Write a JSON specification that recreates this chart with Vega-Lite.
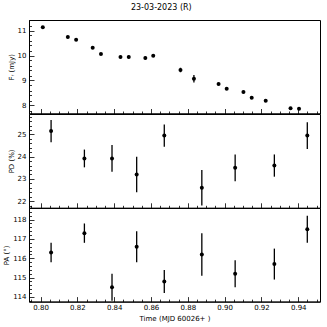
{
  "$schema": "https://vega.github.io/schema/vega-lite/v6.json",
  "padding": {"left": 2, "top": 3, "right": 5, "bottom": 2},
  "title": {"text": "23-03-2023  (R)", "fontSize": 8, "fontWeight": "normal", "font": "DejaVu Sans", "anchor": "middle", "offset": 4, "color": "black"},
  "config": {
    "view": {"stroke": "black", "strokeWidth": 1},
    "axis": {"domainColor": "black", "tickColor": "black", "labelColor": "black", "titleColor": "black", "labelFont": "DejaVu Sans", "titleFont": "DejaVu Sans", "labelFontSize": 7, "titleFontSize": 7, "titleFontWeight": "normal", "grid": false, "tickWidth": 0.8}
  },
  "datasets": {
    "flux": [
      {"t": 0.8012, "v": 11.13, "e": 0.05},
      {"t": 0.8148, "v": 10.74, "e": 0.05},
      {"t": 0.8193, "v": 10.63, "e": 0.04},
      {"t": 0.8283, "v": 10.31, "e": 0.04},
      {"t": 0.8328, "v": 10.06, "e": 0.04},
      {"t": 0.8434, "v": 9.94, "e": 0.05},
      {"t": 0.8479, "v": 9.94, "e": 0.06},
      {"t": 0.8569, "v": 9.90, "e": 0.06},
      {"t": 0.8612, "v": 9.99, "e": 0.05},
      {"t": 0.8760, "v": 9.42, "e": 0.09},
      {"t": 0.8833, "v": 9.07, "e": 0.15},
      {"t": 0.8967, "v": 8.86, "e": 0.05},
      {"t": 0.9011, "v": 8.67, "e": 0.05},
      {"t": 0.9102, "v": 8.54, "e": 0.05},
      {"t": 0.9147, "v": 8.31, "e": 0.05},
      {"t": 0.9223, "v": 8.19, "e": 0.04},
      {"t": 0.9358, "v": 7.89, "e": 0.04},
      {"t": 0.9404, "v": 7.87, "e": 0.05}
    ],
    "pd": [
      {"t": 0.8057, "v": 25.15, "e": 0.5},
      {"t": 0.8238, "v": 23.92, "e": 0.4},
      {"t": 0.8388, "v": 23.92, "e": 0.6},
      {"t": 0.8522, "v": 23.2, "e": 0.8},
      {"t": 0.8672, "v": 24.95, "e": 0.5},
      {"t": 0.8876, "v": 22.6, "e": 0.8},
      {"t": 0.9057, "v": 23.5, "e": 0.6},
      {"t": 0.9270, "v": 23.6, "e": 0.5},
      {"t": 0.9449, "v": 24.95, "e": 0.6}
    ],
    "pa": [
      {"t": 0.8057, "v": 116.3, "e": 0.5},
      {"t": 0.8238, "v": 117.3, "e": 0.5},
      {"t": 0.8388, "v": 114.5, "e": 0.7},
      {"t": 0.8522, "v": 116.6, "e": 0.8},
      {"t": 0.8672, "v": 114.8, "e": 0.6},
      {"t": 0.8876, "v": 116.2, "e": 1.1},
      {"t": 0.9057, "v": 115.2, "e": 0.7},
      {"t": 0.9270, "v": 115.7, "e": 0.8},
      {"t": 0.9449, "v": 117.5, "e": 0.7}
    ]
  },
  "spacing": 0,
  "bounds": "flush",
  "vconcat": [
    {
      "width": 291, "height": 93.5,
      "data": {"name": "flux"},
      "encoding": {
        "x": {"field": "t", "type": "quantitative", "scale": {"domain": [0.7937, 0.9518], "nice": false, "zero": false},
              "axis": {"title": null, "labels": false, "minExtent": 0, "maxExtent": 0, "values": [0.795,0.8,0.805,0.81,0.815,0.82,0.825,0.83,0.835,0.84,0.845,0.85,0.855,0.86,0.865,0.87,0.875,0.88,0.885,0.89,0.895,0.9,0.905,0.91,0.915,0.92,0.925,0.93,0.935,0.94,0.945,0.95],
                       "tickSize": {"condition": {"test": "abs(datum.value*50 - round(datum.value*50)) < 0.001", "value": -5}, "value": -2.5}}},
        "y": {"field": "v", "type": "quantitative", "scale": {"domain": [7.68, 11.42], "nice": false, "zero": false},
              "axis": {"title": "Fᵣ (mJy)", "titlePadding": 3, "labelOverlap": false,
                       "values": [7.8,8,8.2,8.4,8.6,8.8,9,9.2,9.4,9.6,9.8,10,10.2,10.4,10.6,10.8,11,11.2,11.4],
                       "labelExpr": "abs(datum.value - round(datum.value)) < 0.001 ? format(datum.value, 'd') : ''",
                       "tickSize": {"condition": {"test": "abs(datum.value - round(datum.value)) < 0.001", "value": -5}, "value": -2.5}, "labelPadding": 8}}
      },
      "layer": [
        {"mark": {"type": "errorbar", "color": "black", "thickness": 1.3}, "encoding": {"yError": {"field": "e"}}},
        {"mark": {"type": "circle", "color": "black", "opacity": 1, "size": 16}}
      ]
    },
    {
      "width": 291, "height": 93.8,
      "data": {"name": "pd"},
      "encoding": {
        "x": {"field": "t", "type": "quantitative", "scale": {"domain": [0.7937, 0.9518], "nice": false, "zero": false},
              "axis": {"title": null, "labels": false, "minExtent": 0, "maxExtent": 0, "values": [0.795,0.8,0.805,0.81,0.815,0.82,0.825,0.83,0.835,0.84,0.845,0.85,0.855,0.86,0.865,0.87,0.875,0.88,0.885,0.89,0.895,0.9,0.905,0.91,0.915,0.92,0.925,0.93,0.935,0.94,0.945,0.95],
                       "tickSize": {"condition": {"test": "abs(datum.value*50 - round(datum.value*50)) < 0.001", "value": -5}, "value": -2.5}}},
        "y": {"field": "v", "type": "quantitative", "scale": {"domain": [21.7, 25.92], "nice": false, "zero": false},
              "axis": {"title": "PD (%)", "titlePadding": 3, "labelOverlap": false,
                       "values": [21.8,22,22.2,22.4,22.6,22.8,23,23.2,23.4,23.6,23.8,24,24.2,24.4,24.6,24.8,25,25.2,25.4,25.6,25.8],
                       "labelExpr": "abs(datum.value - round(datum.value)) < 0.001 ? format(datum.value, 'd') : ''",
                       "tickSize": {"condition": {"test": "abs(datum.value - round(datum.value)) < 0.001", "value": -5}, "value": -2.5}, "labelPadding": 8}}
      },
      "layer": [
        {"mark": {"type": "errorbar", "color": "black", "thickness": 1.3}, "encoding": {"yError": {"field": "e"}}},
        {"mark": {"type": "circle", "color": "black", "opacity": 1, "size": 16}}
      ]
    },
    {
      "width": 291, "height": 93.6,
      "data": {"name": "pa"},
      "encoding": {
        "x": {"field": "t", "type": "quantitative", "scale": {"domain": [0.7937, 0.9518], "nice": false, "zero": false},
              "axis": {"title": "Time (MJD 60026+ )", "titlePadding": 1, "labelOverlap": false,
                       "values": [0.795,0.8,0.805,0.81,0.815,0.82,0.825,0.83,0.835,0.84,0.845,0.85,0.855,0.86,0.865,0.87,0.875,0.88,0.885,0.89,0.895,0.9,0.905,0.91,0.915,0.92,0.925,0.93,0.935,0.94,0.945,0.95],
                       "labelExpr": "abs(datum.value*50 - round(datum.value*50)) < 0.001 ? format(datum.value, '.2f') : ''",
                       "tickSize": {"condition": {"test": "abs(datum.value*50 - round(datum.value*50)) < 0.001", "value": -5}, "value": -2.5}, "labelPadding": 7}},
        "y": {"field": "v", "type": "quantitative", "scale": {"domain": [113.76, 118.6], "nice": false, "zero": false},
              "axis": {"title": "PA (°)", "titlePadding": 3, "labelOverlap": false,
                       "values": [113.8,114,114.2,114.4,114.6,114.8,115,115.2,115.4,115.6,115.8,116,116.2,116.4,116.6,116.8,117,117.2,117.4,117.6,117.8,118,118.2,118.4],
                       "labelExpr": "abs(datum.value - round(datum.value)) < 0.001 ? format(datum.value, 'd') : ''",
                       "tickSize": {"condition": {"test": "abs(datum.value - round(datum.value)) < 0.001", "value": -5}, "value": -2.5}, "labelPadding": 8}}
      },
      "layer": [
        {"mark": {"type": "errorbar", "color": "black", "thickness": 1.3}, "encoding": {"yError": {"field": "e"}}},
        {"mark": {"type": "circle", "color": "black", "opacity": 1, "size": 16}}
      ]
    }
  ]
}
